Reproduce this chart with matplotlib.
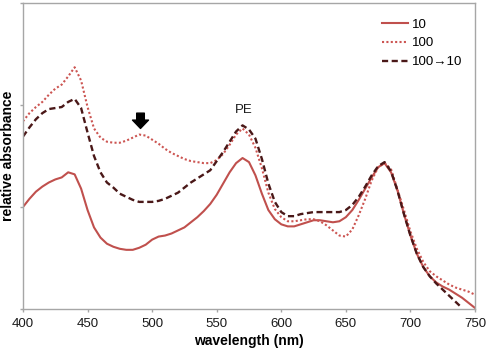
import matplotlib
matplotlib.use("Agg")
import matplotlib.pyplot as plt
import numpy as np

plt.rcParams['font.family'] = ['Liberation Sans', 'DejaVu Sans']

# wavelength grid (nm)
wl = list(range(400, 755, 5))
wl_dash = list(range(400, 745, 5))

# relative absorbance
abs_10 = [1.00, 1.08, 1.15, 1.20, 1.24, 1.27, 1.29, 1.34, 1.32, 1.18,
          0.97, 0.80, 0.70, 0.64, 0.61, 0.59, 0.58, 0.58, 0.60, 0.63,
          0.68, 0.71, 0.72, 0.74, 0.77, 0.80, 0.85, 0.90, 0.96, 1.03,
          1.12, 1.23, 1.34, 1.43, 1.48, 1.44, 1.31, 1.13, 0.97, 0.88,
          0.83, 0.81, 0.81, 0.83, 0.85, 0.87, 0.87, 0.86, 0.85, 0.86,
          0.90, 0.97, 1.07, 1.18, 1.29, 1.39, 1.43, 1.34, 1.16, 0.93,
          0.72, 0.54, 0.41, 0.32, 0.26, 0.22, 0.19, 0.15, 0.11, 0.06,
          0.01]
abs_100 = [1.84, 1.92, 1.98, 2.03, 2.10, 2.16, 2.20, 2.28, 2.37, 2.24,
           1.98, 1.77, 1.68, 1.64, 1.63, 1.63, 1.65, 1.68, 1.71, 1.70,
           1.66, 1.62, 1.57, 1.53, 1.50, 1.47, 1.45, 1.44, 1.43, 1.43,
           1.46, 1.52, 1.61, 1.71, 1.77, 1.71, 1.58, 1.38, 1.14, 0.98,
           0.90, 0.86, 0.86, 0.87, 0.88, 0.88, 0.86, 0.82, 0.77, 0.72,
           0.71, 0.78, 0.92, 1.08, 1.26, 1.39, 1.43, 1.37, 1.17, 0.97,
           0.76, 0.59, 0.46, 0.37, 0.32, 0.28, 0.24, 0.21, 0.19, 0.17,
           0.14]
abs_100_10 = [1.69, 1.78, 1.86, 1.92, 1.96, 1.97, 1.98, 2.03, 2.06, 1.97,
              1.73, 1.50, 1.34, 1.24, 1.19, 1.13, 1.10, 1.07, 1.05, 1.05,
              1.05, 1.06, 1.08, 1.11, 1.14, 1.19, 1.24, 1.28, 1.32, 1.36,
              1.45, 1.54, 1.64, 1.74, 1.80, 1.76, 1.67, 1.47, 1.23, 1.05,
              0.95, 0.91, 0.91, 0.93, 0.94, 0.95, 0.95, 0.95, 0.95, 0.95,
              0.97, 1.02, 1.10, 1.20, 1.31, 1.40, 1.44, 1.35, 1.16, 0.93,
              0.72, 0.54, 0.41, 0.32, 0.25, 0.19, 0.13, 0.07, 0.01]

labels = ["10", "100", "100\u219210"]
x_ticks = [400, 450, 500, 550, 600, 650, 700, 750]
y_ticks = [0, 1, 2, 3]

arrow_wl = 491
pe_wl = 571

fig = plt.figure(figsize=(4.9, 3.55), dpi=100)
ax = fig.add_axes([0.0469, 0.1296, 0.9225, 0.862])

ax.plot(wl, abs_10, color='#C0504D', lw=1.5, label=labels[0])
ax.plot(wl, abs_100, color='#CC5552', lw=1.5, linestyle=(0, (1, 1.1)), label=labels[1])
ax.plot(wl_dash, abs_100_10, color='#4A1818', lw=1.7, linestyle=(0, (2.6, 1.5)), label=labels[2])

ax.set_xlim(400, 750)
ax.set_ylim(0, 3)
ax.set_xticks(x_ticks)
ax.set_yticks(y_ticks)
ax.set_yticklabels([])
for s in ax.spines.values():
    s.set_color('#A6A6A6')
    s.set_linewidth(1.0)
ax.tick_params(axis='both', direction='out', length=2.5, color='#A6A6A6', width=1.0)
ax.tick_params(axis='x', labelsize=9.5, pad=4, labelcolor='#1a1a1a')

ax.set_xlabel("wavelength (nm)", fontsize=10, fontweight='bold', labelpad=3)
ax.set_ylabel("relative absorbance", fontsize=10, fontweight='bold')
ax.yaxis.set_label_coords(-0.018, 0.5)

# arrow marking the 490 nm shoulder
ax.annotate('', xy=(arrow_wl, 1.77), xytext=(arrow_wl, 1.92),
            arrowprops=dict(arrowstyle='simple,head_length=0.6,head_width=1.15,tail_width=0.55',
                            mutation_scale=10, color='black', shrinkA=0, shrinkB=0))
ax.text(pe_wl, 1.95, "PE", fontsize=9.5, ha='center', va='center', color='#1a1a1a')

ax.legend(loc='upper left', bbox_to_anchor=(0.794, 0.95), frameon=False,
          fontsize=9.5, handlelength=2.0, handletextpad=0.3, labelspacing=0.5,
          borderaxespad=0, borderpad=0)

fig.savefig("out.png", dpi=100)
